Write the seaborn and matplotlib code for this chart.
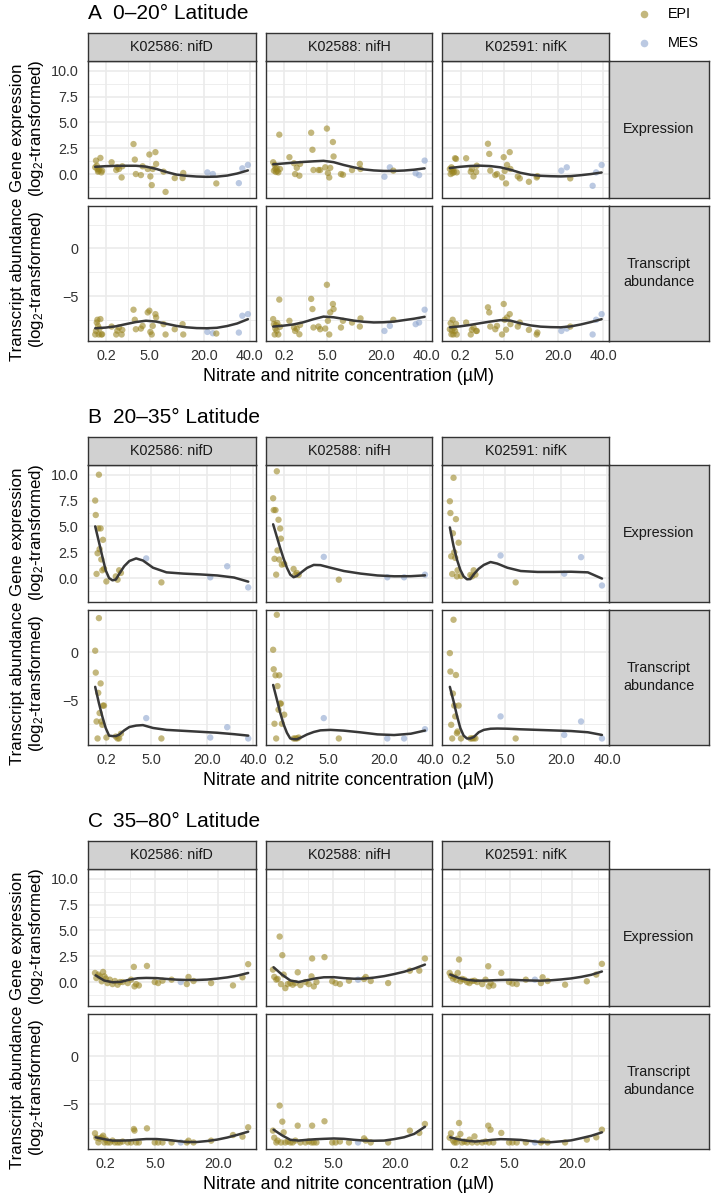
"""nif gene expression / transcript abundance vs nitrate+nitrite, by latitude band."""

import matplotlib

matplotlib.use("Agg")
import matplotlib.pyplot as plt
import numpy as np
import pandas as pd
import seaborn as sns

W, H = 714, 1201

GENES = ["K02586: nifD", "K02588: nifH", "K02591: nifK"]
MEASURES = ["Expression", "Transcript\nabundance"]
YLABELS = ["Gene expression", "Transcript abundance"]
BANDS = ["0–20° Latitude", "20–35° Latitude", "35–80° Latitude"]
TAGS = ["A", "B", "C"]
DEPTH_COLORS = {"EPI": "#998420", "MES": "#8aa3cd"}

# ---------------- band A: 0-20 deg ----------------
no3_a = [0.0, 0.001, 0.004, 0.008, 0.013, 0.02, 0.029, 0.045, 0.064, 0.079,
         0.45, 0.74, 0.82, 0.95, 1.17, 1.23, 2.46, 2.63, 2.77, 3.5, 3.77,
         4.62, 4.92, 5.1, 5.36, 5.55, 6.08, 6.22, 7.83, 8.3, 10.6, 12.8, 13.0,
         21.1, 23.2, 24.6, 34.6, 36.3, 39.1]
depth_a = ["EPI"] * 33 + ["MES", "MES", "EPI", "MES", "MES", "MES"]
expr_a_nifd = [0.65, 1.3, 0.81, 0.49, 0.23, 0.33, 0.49, 1.56, 0.16, 0.33, 1.14, 0.39, 0.65,
               0.49, -0.33, 0.75, 2.9, 1.4, 0.0, -0.1, 0.75, 0.49, 1.89, -0.23, -1.07, 0.49,
               2.12, 0.98, 0.23, -1.73, -0.39, -0.39, 0.1, 0.16, 0.0, -0.91, -0.88, 0.55, 0.88]
expr_a_nifh = [1.14, 0.33, 0.88, 0.5, 0.2, 0.6, 0.3, 0.16, 3.81, 0.49, 1.63, 1.04, 0.0,
               0.6, -0.16, 0.98, 4.0, 2.35, 0.39, 0.39, 0.39, 0.65, 4.4, 0.1, -0.33, 0.6,
               3.1, 1.7, 0.0, -0.07, 0.39, 0.98, 0.49, -0.26, 0.65, 0.33, 0.07, -0.1, 1.3]
expr_a_nifk = [0.49, 0.0, 0.65, 0.3, 0.1, 0.5, 0.2, 1.53, 1.47, 0.16, 1.53, 0.23, 0.5,
               -0.23, 0.2, 0.81, 2.93, 1.95, 0.33, -0.1, 0.0, -0.33, 1.63, 0.3, -0.91, 0.88,
               2.12, 0.49, -0.23, -0.42, -0.75, -0.33, -0.2, 0.33, 0.65, -0.42, -1.14, 0.16, 0.88]
tran_a_nifd = [-9.0, -8.63, -7.75, -7.46, -8.1, -9.0, -8.4, -7.39, -9.0, -8.98, -8.17, -9.0,
               -8.6, -8.27, -9.0, -8.52, -6.41, -7.46, -8.45, -8.38, -8.1, -6.69, -6.51,
               -8.73, -9.0, -8.1, -6.87, -7.22, -7.92, -9.0, -8.45, -7.92, -9.0, -8.73,
               -8.87, -8.9, -8.8, -7.04, -6.87]
tran_a_nifh = [-7.39, -7.92, -9.0, -8.38, -8.0, -8.6, -7.8, -9.0, -5.35, -8.2, -7.57, -8.27,
               -8.63, -8.4, -8.98, -8.0, -5.28, -6.34, -8.27, -8.17, -8.45, -8.38, -3.8,
               -7.57, -9.0, -6.69, -5.81, -6.34, -8.27, -7.57, -7.75, -8.17, -7.32, -8.63,
               -8.1, -7.46, -7.92, -7.75, -6.41]
tran_a_nifk = [-8.45, -7.82, -8.98, -8.6, -7.46, -9.0, -8.3, -8.63, -7.9, -9.0, -7.75, -9.0,
               -8.5, -8.27, -8.63, -8.63, -6.16, -6.69, -8.17, -8.45, -8.1, -9.0, -5.81,
               -7.46, -8.5, -7.22, -6.87, -7.92, -8.17, -7.75, -8.52, -9.0, -8.8, -8.63,
               -8.38, -8.17, -9.0, -7.46, -6.87]

# smoother
fit_x_a = [0.0, 0.176, 0.696, 1.56, 2.77, 4.32, 6.22, 8.46, 11.05, 13.98, 17.25, 20.87,
           24.84, 29.14, 33.8, 39.1]
fit_a_expr_nifd = [0.70, 0.76, 0.79, 0.80, 0.80, 0.72, 0.50, 0.20, -0.05, -0.17, -0.24,
                   -0.27, -0.25, -0.15, 0.05, 0.35]
fit_a_expr_nifh = [0.94, 1.02, 1.10, 1.17, 1.23, 1.28, 1.15, 0.88, 0.65, 0.45, 0.35, 0.30,
                   0.30, 0.34, 0.42, 0.55]
fit_a_expr_nifk = [0.58, 0.70, 0.78, 0.81, 0.77, 0.65, 0.42, 0.12, -0.07, -0.17, -0.21,
                   -0.23, -0.20, -0.11, 0.0, 0.15]
fit_a_tran_nifd = [-8.35, -8.28, -8.15, -7.92, -7.70, -7.56, -7.65, -7.88, -8.10, -8.25,
                   -8.33, -8.35, -8.30, -8.12, -7.85, -7.40]
fit_a_tran_nifh = [-8.17, -8.08, -7.95, -7.72, -7.40, -7.13, -7.20, -7.37, -7.55, -7.67,
                   -7.74, -7.72, -7.65, -7.50, -7.35, -7.15]
fit_a_tran_nifk = [-8.25, -8.15, -8.00, -7.82, -7.65, -7.50, -7.55, -7.83, -8.05, -8.18,
                   -8.23, -8.25, -8.15, -7.95, -7.70, -7.40]

# ---------------- band B: 20-35 deg ----------------
no3_b = [0.0, 0.0005, 0.003, 0.009, 0.015, 0.022, 0.031, 0.047, 0.06, 0.081, 0.097, 0.124,
         0.2, 0.68, 0.8, 0.92, 1.06, 4.17, 7.02, 21.2, 27.9, 37.5]
depth_b = ["EPI"] * 17 + ["MES", "EPI", "MES", "MES", "MES"]
expr_b_nifd = [7.5, 6.1, 0.4, 2.4, 4.8, 10.0, 2.8, 4.8, 1.8, 0.75, 3.7, 0.9, -0.33, 0.16,
               -0.16, 0.75, 0.5, 1.9, -0.42, 0.07, 1.14, -0.91]
expr_b_nifh = [7.72, 6.58, 1.86, 6.58, 0.33, 10.33, 2.67, 5.64, 1.79, 4.79, 3.81, 1.3, 1.37,
               0.88, 0.33, 0.49, 0.3, 2.05, -0.16, 0.07, 0.07, 0.33]
expr_b_nifk = [7.43, 6.29, 2.1, 0.39, 4.33, 9.7, 2.5, 1.95, 5.7, 0.16, 0.75, 3.42, 0.2, 0.3,
               0.16, 0.75, 0.33, 2.18, -0.42, 0.42, 2.02, -0.72]
tran_b_nifd = [0.18, -2.11, -7.22, -9.0, -4.23, 3.59, -6.34, -3.24, -7.22, -7.57, -5.56,
               -5.56, -8.9, -8.8, -9.0, -9.0, -8.5, -6.87, -9.0, -8.9, -7.82, -9.0]
tran_b_nifh = [0.28, -1.76, -7.46, -2.39, -9.0, 3.94, -3.52, -5.99, -2.39, -5.35, -5.35,
               -7.46, -6.51, -9.0, -9.0, -9.0, -8.9, -6.87, -9.0, -9.0, -9.0, -8.03]
tran_b_nifk = [-0.07, -2.0, -7.57, -9.0, -4.3, 3.42, -5.56, -6.69, -2.36, -8.45, -8.27,
               -5.56, -9.0, -9.0, -9.0, -8.98, -9.0, -6.69, -9.0, -8.63, -7.22, -9.0]

fit_x_b = [0.0, 0.022, 0.081, 0.176, 0.308, 0.476, 0.681, 0.923, 1.35, 1.87, 2.68, 3.64,
           5.35, 8.14, 12.45, 17.67, 23.81, 30.86, 37.5]
fit_b_expr_nifd = [5.0, 3.5, 2.1, 0.75, 0.0, -0.22, -0.15, 0.4, 1.15, 1.65, 1.9, 1.7, 1.0,
                   0.55, 0.43, 0.35, 0.25, 0.05, -0.35]
fit_b_expr_nifh = [5.2, 4.0, 2.9, 1.9, 1.0, 0.33, 0.08, 0.2, 0.6, 0.98, 1.27, 1.25, 1.0,
                   0.68, 0.43, 0.25, 0.17, 0.18, 0.26]
fit_b_expr_nifk = [4.9, 3.1, 1.8, 0.8, 0.15, -0.12, -0.1, 0.35, 0.9, 1.27, 1.55, 1.4, 1.0,
                   0.68, 0.59, 0.59, 0.61, 0.55, -0.05]
fit_b_tran_nifd = [-3.6, -5.3, -6.7, -7.9, -8.7, -8.75, -8.75, -8.6, -8.15, -7.8, -7.65,
                   -7.6, -7.9, -8.1, -8.2, -8.3, -8.4, -8.55, -8.7]
fit_b_tran_nifh = [-3.4, -4.9, -6.3, -7.5, -8.4, -9.0, -9.07, -9.08, -8.85, -8.58, -8.32,
                   -8.15, -8.1, -8.18, -8.36, -8.57, -8.64, -8.5, -8.17]
fit_b_tran_nifk = [-3.6, -5.1, -6.6, -7.9, -8.7, -9.0, -9.0, -8.85, -8.35, -8.1, -7.98,
                   -7.96, -7.98, -8.04, -8.1, -8.16, -8.22, -8.35, -8.63]

# ---------------- band C: 35-80 deg ----------------
no3_c = [0.0075, 0.018, 0.043, 0.065, 0.107, 0.141, 0.179, 0.222, 0.282, 0.379, 0.506,
         0.633, 0.795, 0.952, 1.15, 1.57, 1.88, 2.16, 2.23, 2.41, 2.72, 3.75, 4.9, 5.45,
         6.2, 7.92, 9.86, 11.26, 11.67, 12.93, 17.82, 25.0, 28.5, 30.7]
depth_c = ["EPI"] * 26 + ["MES"] + ["EPI"] * 7
expr_c_nifd = [0.88, 0.39, 0.72, 0.55, 0.07, 0.98, 0.55, 0.33, -0.1, 0.23, -0.2, 0.1,
               -0.26, 0.0, 0.0, -0.1, 0.23, 1.47, -0.42, -0.2, -0.33, 1.56, 0.0, -0.1, 0.13,
               0.23, 0.0, -0.2, 0.49, 0.1, -0.1, -0.33, 0.46, 1.73]
expr_c_nifh = [1.2, 0.5, 0.23, 0.3, 4.4, -0.2, 2.6, 0.72, -0.59, -0.2, -0.1, -0.26, -0.1,
               0.94, -0.3, 0.0, -0.2, 0.55, 2.28, -0.42, 0.0, 2.41, 0.07, -0.1, -0.2, 0.13,
               0.23, 0.3, 0.49, 0.1, -0.1, 1.1, 1.1, 2.28]
expr_c_nifk = [0.88, 0.6, 0.33, 0.5, 0.2, 0.88, 2.18, 0.07, 0.3, 0.23, 0.0, -0.1, 0.1, 0.13,
               0.0, -0.2, 0.23, 1.53, -0.42, -0.1, -0.33, 0.88, 0.0, -0.15, -0.2, 0.23, 0.23,
               -0.1, 0.46, 0.1, -0.26, 0.07, 0.72, 1.76]
tran_c_nifd = [-8.04, -8.5, -8.99, -8.6, -8.46, -8.29, -9.0, -8.7, -9.0, -9.0, -8.8, -9.0,
               -9.0, -9.0, -8.9, -9.0, -9.0, -7.59, -7.76, -9.0, -9.0, -7.52, -9.0, -9.0,
               -9.0, -9.0, -9.0, -9.0, -8.81, -9.0, -8.81, -8.22, -8.39, -7.41]
tran_c_nifh = [-7.76, -8.5, -9.0, -8.8, -5.14, -9.0, -6.82, -7.94, -9.0, -8.9, -9.0, -9.0,
               -8.8, -7.24, -9.0, -9.0, -8.9, -9.0, -7.24, -9.0, -9.0, -6.78, -9.0, -9.0,
               -8.9, -9.0, -9.0, -8.57, -8.8, -9.0, -9.0, -7.76, -8.0, -7.06]
tran_c_nifk = [-8.5, -8.04, -8.8, -9.0, -9.0, -8.6, -6.96, -8.11, -9.0, -8.9, -9.0, -8.7,
               -9.0, -8.36, -9.0, -9.0, -8.9, -7.24, -9.0, -7.66, -9.0, -8.0, -9.0, -9.0,
               -9.0, -9.0, -9.0, -9.0, -8.8, -9.0, -9.0, -8.7, -8.46, -7.66]

fit_x_c = [0.012, 0.169, 0.506, 1.02, 1.72, 2.6, 3.66, 5.17, 6.94, 8.97, 11.26, 13.81,
           16.62, 19.69, 23.02, 26.61, 30.7]
fit_c_expr_nifd = [0.65, 0.15, -0.02, 0.02, 0.23, 0.37, 0.40, 0.38, 0.30, 0.23, 0.20, 0.20,
                   0.24, 0.33, 0.45, 0.62, 0.88]
fit_c_expr_nifh = [1.43, 0.72, 0.15, 0.0, 0.18, 0.35, 0.46, 0.47, 0.38, 0.32, 0.33, 0.43,
                   0.57, 0.77, 1.0, 1.3, 1.69]
fit_c_expr_nifk = [0.72, 0.40, 0.22, 0.13, 0.14, 0.17, 0.20, 0.22, 0.18, 0.15, 0.13, 0.17,
                   0.25, 0.35, 0.50, 0.70, 1.02]
fit_c_tran_nifd = [-8.46, -8.65, -8.8, -8.8, -8.78, -8.7, -8.64, -8.64, -8.72, -8.84,
                   -8.95, -8.95, -8.85, -8.7, -8.48, -8.2, -7.87]
fit_c_tran_nifh = [-7.66, -8.25, -8.72, -8.8, -8.72, -8.66, -8.62, -8.58, -8.62, -8.72,
                   -8.8, -8.82, -8.8, -8.65, -8.45, -8.1, -7.35]
fit_c_tran_nifk = [-8.46, -8.68, -8.82, -8.9, -8.82, -8.72, -8.65, -8.68, -8.73, -8.85,
                   -8.95, -8.97, -8.88, -8.78, -8.55, -8.3, -7.94]

BAND_POINTS = [
    (no3_a, depth_a, [expr_a_nifd, expr_a_nifh, expr_a_nifk, tran_a_nifd, tran_a_nifh, tran_a_nifk]),
    (no3_b, depth_b, [expr_b_nifd, expr_b_nifh, expr_b_nifk, tran_b_nifd, tran_b_nifh, tran_b_nifk]),
    (no3_c, depth_c, [expr_c_nifd, expr_c_nifh, expr_c_nifk, tran_c_nifd, tran_c_nifh, tran_c_nifk]),
]
BAND_FITS = [
    (fit_x_a, [fit_a_expr_nifd, fit_a_expr_nifh, fit_a_expr_nifk,
               fit_a_tran_nifd, fit_a_tran_nifh, fit_a_tran_nifk]),
    (fit_x_b, [fit_b_expr_nifd, fit_b_expr_nifh, fit_b_expr_nifk,
               fit_b_tran_nifd, fit_b_tran_nifh, fit_b_tran_nifk]),
    (fit_x_c, [fit_c_expr_nifd, fit_c_expr_nifh, fit_c_expr_nifk,
               fit_c_tran_nifd, fit_c_tran_nifh, fit_c_tran_nifk]),
]

XTICKS = [0.2, 5.0, 20.0, 40.0]
XLIMS = [(-0.095, 43.15), (-0.09, 41.2), (-0.03, 33.7)]
YTICKS = [[0, 2.5, 5, 7.5, 10], [-5, 0]]
YTICKLABELS = [["0.0", "2.5", "5.0", "7.5", "10.0"], ["\u22125", "0"]]
YMINOR = [[-1.25, 1.25, 3.75, 6.25, 8.75], [-7.5, -2.5, 2.5]]
YLIMS = [(-2.27, 10.9), (-9.64, 4.44)]

# layout in pixels (left, right) / (top, bottom)
COL_X = [(87.7, 255.6), (265.7, 432.3), (442.4, 609.3)]
RSTRIP_X = (609.3, 708.7)
TSTRIP_Y = (33.3, 61.4)
ROW_Y = [(61.4, 197.5), (206.0, 340.6)]
YLAB_CY = [128.0, 279.0]
BAND_DY = 404.0

GRID = "#ebebeb"
DARK = "#333333"
SMALL = 10.4
TITLE = 12.9
YTITLE = 12.2


def sq(v):
    v = np.asarray(v, dtype=float)
    return np.sign(v) * np.sqrt(np.abs(v))


def unsq(v):
    v = np.asarray(v, dtype=float)
    return np.sign(v) * v ** 2


def box(l, t, r, b):
    return [l / W, 1 - b / H, (r - l) / W, (b - t) / H]


def fx(x):
    return x / W


def fy(y):
    return 1 - y / H


def add_strip(fig, l, t, r, b, label):
    sax = fig.add_axes(box(l, t, r, b))
    sax.set_facecolor("#d1d1d1")
    sax.set_xticks([])
    sax.set_yticks([])
    for s in sax.spines.values():
        s.set_color(DARK)
        s.set_linewidth(1.0)
    sax.text(0.5, 0.5, label, ha="center", va="center", transform=sax.transAxes,
             fontsize=SMALL, color="#1a1a1a", linespacing=1.35)


def main() -> None:
    sns.set_theme(style="white")
    plt.rcParams["font.family"] = ["Liberation Sans", "DejaVu Sans"]
    plt.rcParams["mathtext.fontset"] = "custom"
    plt.rcParams["mathtext.rm"] = "Liberation Sans"
    plt.rcParams["mathtext.default"] = "regular"

    fig = plt.figure(figsize=(W / 100, H / 100), dpi=100)
    fig.patch.set_facecolor("white")

    for b in range(3):
        oy = b * BAND_DY
        no3, depth, ys = BAND_POINTS[b]
        fit_x, fits = BAND_FITS[b]
        xmin, xmax = XLIMS[b]
        xt = [t for t in XTICKS if t < xmax]
        xminor = [float(unsq((sq(a) + sq(c)) / 2)) for a, c in zip(XTICKS[:-1], XTICKS[1:])]

        for r in range(2):
            t, bt = ROW_Y[r]
            for c in range(3):
                l, rr = COL_X[c]
                ax = fig.add_axes(box(l, t + oy, rr, bt + oy))
                ax.set_xscale("function", functions=(sq, unsq))
                ax.set_axisbelow(True)
                df = pd.DataFrame({"no3": no3, "value": ys[r * 3 + c], "depth": depth})
                sns.scatterplot(data=df, x="no3", y="value", hue="depth",
                                palette=DEPTH_COLORS, s=21, alpha=0.58, linewidth=0,
                                legend=False, ax=ax, zorder=2)
                sns.lineplot(x=fit_x, y=fits[r * 3 + c], color="#383838", linewidth=1.8,
                             ax=ax, zorder=3)
                ax.set_xlim(xmin, xmax)
                ax.set_ylim(*YLIMS[r])
                ax.set_xticks(xt)
                ax.set_xticks(xminor, minor=True)
                ax.set_yticks(YTICKS[r])
                ax.set_yticks(YMINOR[r], minor=True)
                ax.grid(True, which="major", color=GRID, linewidth=1.2)
                ax.grid(True, which="minor", color=GRID, linewidth=0.6)
                ax.set_xlabel("")
                ax.set_ylabel("")
                for s in ax.spines.values():
                    s.set_color(DARK)
                    s.set_linewidth(1.0)
                ax.tick_params(which="minor", length=0)
                ax.tick_params(which="major", color=DARK, width=0.9, length=3.2,
                               labelsize=SMALL, labelcolor=DARK)
                ax.tick_params(axis="x", pad=2.6)
                ax.tick_params(axis="y", pad=3.5)
                if r == 1:
                    ax.set_xticklabels([f"{v:.1f}" for v in xt])
                else:
                    ax.tick_params(axis="x", length=0, labelbottom=False)
                if c == 0:
                    ax.set_yticklabels(YTICKLABELS[r])
                else:
                    ax.tick_params(axis="y", length=0, labelleft=False)

            add_strip(fig, RSTRIP_X[0], t + oy, RSTRIP_X[1], bt + oy, MEASURES[r])
            cy = YLAB_CY[r] + oy
            fig.text(fx(17.5), fy(cy), YLABELS[r], rotation=90, ha="center", va="center",
                     fontsize=YTITLE, color="black")
            fig.text(fx(37.0), fy(cy), "(log$_2$-transformed)", rotation=90, ha="center",
                     va="center", fontsize=YTITLE, color="black")

        for c in range(3):
            l, rr = COL_X[c]
            add_strip(fig, l, TSTRIP_Y[0] + oy, rr, TSTRIP_Y[1] + oy, GENES[c])

        fig.text(fx(87.7), fy(19.0 + oy), TAGS[b], ha="left", va="baseline", fontsize=15,
                 color="black")
        fig.text(fx(113.3), fy(19.0 + oy), BANDS[b], ha="left", va="baseline", fontsize=15,
                 color="black")
        fig.text(fx((COL_X[0][0] + COL_X[2][1]) / 2), fy(380.7 + oy),
                 "Nitrate and nitrite concentration (µM)", ha="center", va="baseline",
                 fontsize=TITLE, color="black")

    # legend (top right, no title)
    lax = fig.add_axes([0, 0, 1, 1])
    lax.set_xlim(0, W)
    lax.set_ylim(H, 0)
    lax.axis("off")
    for i, (name, col) in enumerate(DEPTH_COLORS.items()):
        y = 14.0 + i * 28.7
        lax.scatter([644], [y], s=30, color=col, alpha=0.58, linewidths=0)
        lax.text(668, y, name, ha="left", va="center", fontsize=SMALL, color="black")

    fig.savefig("out.png", dpi=100)
    plt.close(fig)


if __name__ == "__main__":
    main()
